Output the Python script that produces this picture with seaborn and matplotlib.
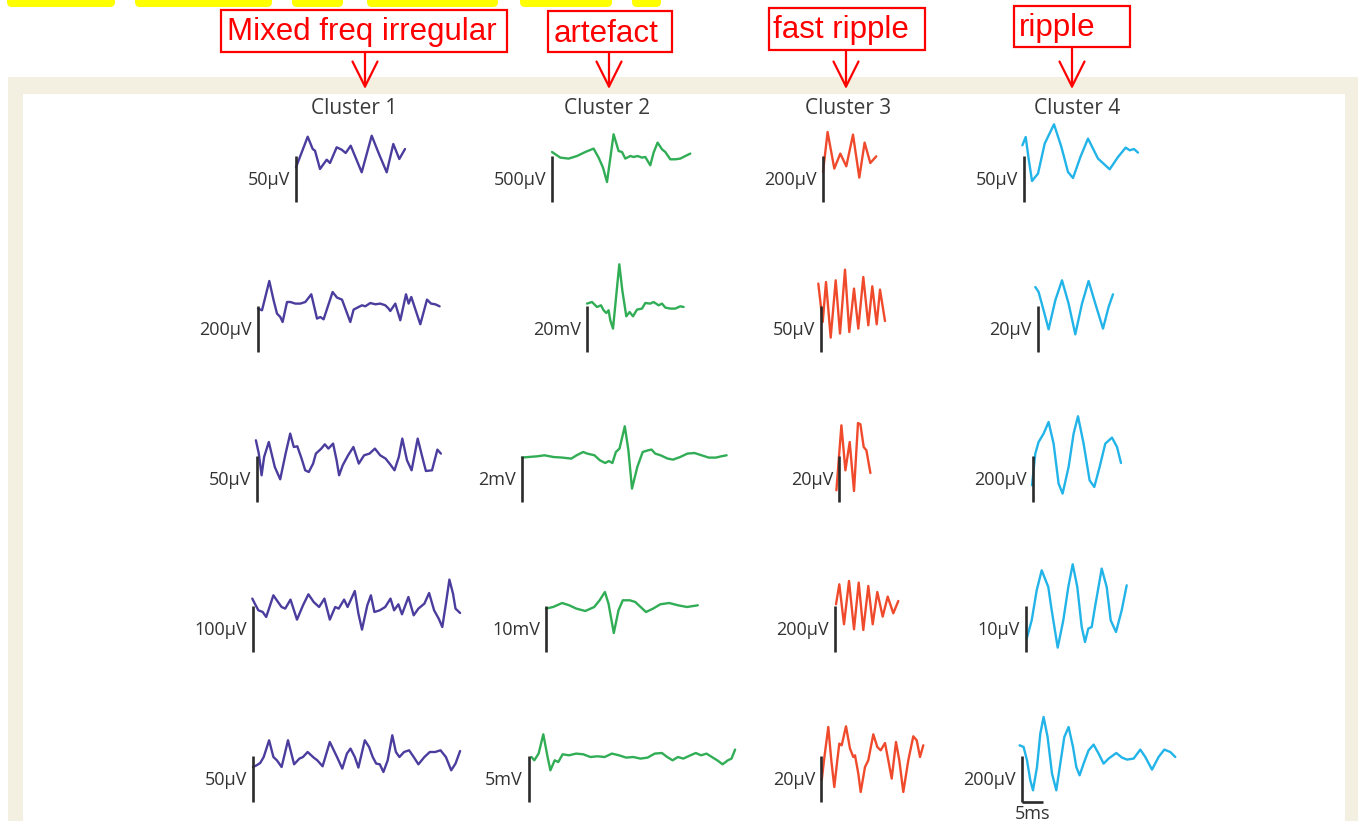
import numpy as np
import pandas as pd
import matplotlib.pyplot as plt
import seaborn as sns
from matplotlib.patches import Rectangle, FancyBboxPatch

sns.set_style('white')
plt.rcParams['font.family'] = ['Open Sans', 'DejaVu Sans']

# ---- data: example traces (t right of scale bar, v up from bar base) ----
c1_t = [
    [0, 11.7, 16.7, 19, 24, 30.7, 34, 40.7, 45.7, 49.7, 54.7, 65.7, 75.7, 82.3, 90.7, 97.3, 103.3, 109],
    [0, 4, 11.3, 15.6, 19, 22.3, 24.6, 29, 32.3, 37.3, 42.3, 47.3, 53.3, 59, 62.3, 65.6, 74.6, 79, 84, 92.3,
     95.6, 100.6, 104, 107.3, 112.3, 117.3, 122.3, 127.3, 130.6, 132.3, 137.3, 142.3, 148, 150.6, 153.3,
     162.3, 169, 173, 177.3, 181.6],
    [-1.1, 1.8, 4.6, 7.1, 11.8, 17.8, 23.2, 28.6, 33.2, 36.8, 40.3, 44.6, 48.2, 51.8, 56.1, 58.9, 64.3, 67.8,
     71.4, 76.1, 79.6, 82.1, 85.7, 91.1, 96.4, 101.8, 107.1, 112.5, 117.9, 123.2, 128.6, 133.9, 137.5, 141.8,
     145.3, 150, 154.6, 160.7, 165.3, 168.9, 175, 180.4, 183.9],
    [-0.7, 1.8, 5.4, 9.7, 13.2, 20.4, 25, 28.6, 32.2, 37.5, 44, 50, 55.4, 60.7, 66.1, 71.4, 76.8, 82.2, 85.7,
     91.1, 94.6, 101.8, 105.4, 109, 114.3, 117.9, 121.4, 126.8, 132.2, 137.5, 141.1, 145.4, 149, 155.4, 160.7,
     165.4, 171.4, 176.1, 181.1, 185.7, 189.3, 192.9, 196.4, 200, 202.5, 207.1],
    [0, 3.6, 7.2, 10.7, 16.1, 20.4, 23.9, 28.6, 35, 41.1, 46.4, 50, 54.6, 60.7, 64.3, 69.6, 76.8, 84, 89.3,
     93.9, 97.5, 101.8, 105.4, 111.8, 116.1, 119.7, 123.2, 126.8, 130.4, 134.7, 139.3, 142.9, 146.4, 151.1,
     156.1, 160.7, 165.4, 171.4, 176.8, 182.2, 187.5, 192.9, 198.2, 202.5, 207.1],
]
c1_v = [
    [34.7, 65.3, 53, 51.3, 33, 42.3, 39, 54.7, 52.3, 49, 56.3, 29.7, 66.3, 49.7, 29.7, 58, 43, 53],
    [43.4, 41.7, 71, 51.7, 38.4, 35, 30, 50, 50, 48.4, 48.4, 50, 57.7, 33.4, 35, 32.7, 60, 54.4, 52.4, 30,
     42.4, 45, 46.7, 45.7, 49, 47.7, 48.4, 46.7, 43.4, 41, 48.4, 31.7, 57.7, 48.4, 55, 27.7, 52.4, 48.4,
     47.7, 45.7],
    [61.7, 48.4, 26.7, 45, 60, 35, 22.7, 48.4, 68.4, 55, 55.7, 43.4, 31.7, 30, 38.4, 48.4, 53.4, 57.7, 53.4,
     58.4, 41.7, 26.7, 36.7, 46.7, 55, 38.4, 46.7, 48.4, 53.4, 46.7, 43.4, 36.7, 31.7, 45, 63.4, 41.7, 31.7,
     63.4, 45, 31, 31.7, 52.4, 48.4],
    [53.4, 48.4, 41.7, 40, 35, 56.7, 50, 45, 43.4, 52.4, 32.4, 46.7, 57.7, 50, 45, 53.4, 32.4, 45, 43.4,
     52.4, 45, 61, 38.4, 22.4, 46.7, 56.7, 40, 41.7, 45, 53.4, 41.7, 47.7, 37.7, 55, 36.7, 43.4, 48.4, 59,
     41.7, 33.4, 25, 48.4, 72.4, 58.4, 43.4, 39],
    [35, 36.7, 39, 45, 61.7, 45, 41.7, 35, 61.7, 37.7, 43.4, 45, 50, 44.4, 41.7, 35.7, 60, 45, 33.4, 48.4,
     53.4, 45, 34.4, 61.7, 55, 45, 38.4, 37.7, 30, 41.7, 66.7, 50, 45, 50, 51.7, 45, 37.7, 45, 50, 50, 51.7,
     45, 31.7, 38.4, 51],
]

c2_t = [
    [0, 8.3, 16.6, 25, 33.3, 41.6, 46.6, 51, 55, 61.6, 66.6, 70, 73.3, 78.3, 81.6, 85.6, 90, 93.3, 98.3,
     101.6, 105.6, 110, 113.3, 118.3, 123.3, 128.3, 133.3, 138.3],
    [0, 5, 10, 14, 16.6, 19.3, 21.6, 23.3, 26, 32.3, 35.3, 39.3, 42.6, 46, 50, 55, 58.3, 63.3, 66.6, 71.6,
     75, 78.3, 83.3, 88.3, 93.3, 96.6],
    [0, 6.4, 15.3, 22.5, 31.4, 40.4, 49.3, 54.6, 61.1, 65.3, 72.5, 77.9, 83.2, 86.8, 90.4, 93.9, 97.5, 102.8,
     106.4, 110, 115.3, 120.7, 126.1, 129.6, 133.2, 138.6, 145.7, 151.1, 158.2, 165.4, 172.5, 179.6, 186.8,
     193.9, 199.3, 204.6],
    [0, 7.1, 16.1, 23.2, 30.3, 39.3, 48.2, 53.6, 58.9, 62.5, 67.8, 72.5, 76.8, 83.9, 89.3, 94.6, 100, 107.1,
     114.3, 123.2, 132.1, 141, 151.8],
    [2.5, 5.3, 9.6, 14.3, 18.6, 21.4, 25.7, 29.3, 33.6, 40, 47.1, 54.3, 61.4, 68.6, 75.7, 82.9, 90, 97.1,
     104.3, 111.4, 118.6, 125.7, 132.9, 138.2, 143.6, 148.9, 154.3, 161.4, 166.8, 172.1, 177.5, 182.9, 188.2,
     193.6, 198.9, 202.5, 206.1],
]
c2_v = [
    [50, 44.4, 43.4, 46, 50, 53.4, 44.4, 34.4, 20, 67.7, 51, 50, 43.4, 46, 45, 46, 44.4, 45, 36.7, 49.4,
     59.4, 52.7, 50, 42.7, 42.7, 43.4, 46, 48.4],
    [48.4, 50, 45, 46.7, 41.7, 39, 41.7, 31.7, 23.4, 87.7, 61.7, 35.7, 40, 35.7, 42.4, 43.4, 49, 48.4, 50,
     46.7, 48.4, 44.4, 43.4, 43.4, 45.7, 45],
    [44.4, 45, 45.7, 46.7, 45, 44.4, 43.4, 46.7, 50, 48.4, 46.7, 41.7, 39, 41, 39, 50, 53.4, 75.7, 51.7,
     13.4, 35, 50, 51.7, 52.4, 48.4, 46.7, 43.4, 42.4, 45, 48.4, 49, 46.7, 44.4, 44.4, 45.7, 46.7],
    [43.4, 45, 49, 46.7, 43.4, 41, 45, 51.7, 60, 48.4, 19, 41.7, 51.7, 51.7, 50, 45, 40, 43.4, 47.7, 49,
     46.7, 45, 46.7],
    [45, 41.7, 48.4, 67.7, 45, 31.7, 41.7, 40, 47.7, 46.7, 48.4, 47.7, 45, 45.7, 45, 48.4, 46.7, 44.4, 45,
     43.4, 44.4, 48.4, 49, 45, 41.7, 45, 43.4, 46.7, 49, 46.7, 48.4, 45, 41.7, 37.7, 41.7, 43.4, 52.4],
]

c3_t = [
    [0, 4.6, 11.3, 17.3, 23.3, 30, 36.3, 41.6, 47.3, 53.3],
    [-2.7, 1.7, 5, 9.7, 14.7, 19, 24, 28.3, 33, 37.3, 42.3, 47.3, 51.3, 55.7, 59, 64],
    [-2.6, 2.4, 6.4, 10.7, 15, 19, 21.4, 24.7, 27.4, 31.4],
    [1, 4.3, 9, 14, 19, 23.7, 28.3, 33.3, 37.7, 42.3, 47.7, 52.7, 58.3, 63.3],
    [0.7, 3, 7.3, 10.3, 13.3, 16.3, 18.3, 20.7, 25, 29, 32.3, 34, 37.3, 39.7, 44, 47.3, 52.3, 56.3, 59.7,
     64, 67.3, 70.7, 75, 78.3, 82.3, 87.3, 92.3, 95.7, 99, 102.3],
]
c3_v = [
    [30, 70, 33.4, 48.4, 35.7, 67.4, 24.4, 59.4, 39, 45.7],
    [68.4, 30, 70, 14.4, 71.7, 18.4, 82.4, 20, 63.4, 23.4, 75, 26.7, 65.7, 27.7, 62.4, 31],
    [11.7, 76.7, 31.7, 60, 11, 79, 77.7, 55, 51.7, 29],
    [47.7, 67.7, 27.7, 71, 22.7, 69.4, 22, 66, 27.7, 60, 35.4, 55.4, 38.7, 51],
    [21.7, 41.7, 75, 41.7, 15, 41.7, 58.4, 56.7, 75.7, 53.4, 45, 46.7, 28.4, 10, 35, 41.7, 67.7, 55, 51.7,
     59, 41.7, 23.4, 60, 41.7, 10, 41.7, 65.7, 61.7, 45, 56.7],
]

c4_t = [
    [-1.6, 1.7, 4.4, 8, 14, 20.7, 30, 37.4, 44, 49, 56.4, 64, 74, 85.7, 94, 101.7, 105.7, 110, 114],
    [-2.7, 0.6, 5.6, 10.6, 17.3, 24, 30.6, 37.3, 44, 50.6, 57.3, 65, 70.6, 75],
    [-1, 2.3, 5.6, 10.6, 15.6, 20.6, 25.6, 29.6, 35.6, 40.6, 45, 50.6, 56.6, 61.3, 66.6, 72.3, 79, 84, 88],
    [0.7, 5.7, 10.7, 15.7, 22.3, 25.7, 31.7, 37.3, 42.3, 46.7, 51.3, 55.7, 59, 62.3, 65.7, 69, 75.7, 80.7,
     84.7, 90, 95.7, 100.7],
    [-2.4, 1.6, 5, 8.3, 11, 15, 18.3, 21.6, 25.6, 30, 34.3, 38.3, 42.3, 46.6, 51, 54.3, 57.6, 61.6, 66.6,
     71.6, 76.6, 81.6, 86.6, 94.3, 100, 105, 111.6, 118.3, 123.3, 130, 136.6, 142.3, 148.3, 153.3],
]
c4_v = [
    [56.7, 65, 45, 21, 28.4, 58.4, 77.7, 55, 30, 24, 45, 63.4, 43.4, 32.7, 45, 54.4, 51.7, 53, 49.4],
    [65, 60, 41.7, 22.7, 51.7, 71.7, 48.4, 17.7, 48.4, 71, 48.4, 23.4, 45, 57.7],
    [16.7, 48.4, 60, 68.4, 80, 58.4, 18.4, 8.4, 35, 68.4, 85.7, 58.4, 21.7, 15, 35, 58.4, 64.4, 55, 39],
    [13.4, 31.7, 61.7, 81.7, 65, 41.7, 4.4, 31.7, 65, 87.7, 65, 25, 10, 23.4, 25, 45, 83.4, 65, 31.7, 20,
     41.7, 66.7],
    [56.7, 55, 41.7, 21.7, 11.7, 35, 68.4, 85, 65, 28.4, 11.7, 38.4, 65, 75, 55, 35, 26.7, 38.4, 51.7, 57.4,
     48.4, 38.4, 43.4, 49, 44.4, 42.4, 43.4, 52.4, 45, 32.4, 45, 52.4, 50, 45],
]

c1_scale = ['50µV', '200µV', '50µV', '100µV', '50µV']
c2_scale = ['500µV', '20mV', '2mV', '10mV', '5mV']
c3_scale = ['200µV', '50µV', '20µV', '200µV', '20µV']
c4_scale = ['50µV', '20µV', '200µV', '10µV', '200µV']

cluster_names = ['Cluster 1', 'Cluster 2', 'Cluster 3', 'Cluster 4']
cluster_tags = ['Mixed freq irregular', 'artefact', 'fast ripple', 'ripple']
time_bar_label = '5ms'

# ---- layout (figure pixels) ----
W, H = 1358, 821
colors = ['#4a3d9e', '#30ad55', '#f04a2c', '#22b4e8']
bar_x = [[296, 552, 823, 1024], [258, 587, 821, 1038], [257, 522, 839, 1033],
         [253, 546, 835, 1026], [253, 529, 821, 1022]]
row_base = [202, 352, 502, 652, 802]
bar_h = 46
title_x = [354, 607, 848, 1077]
tag_pos = [(227, 40, 221, 10, 507, 52, 365), (554, 42, 548, 11, 672, 52, 609),
           (773, 38, 769, 8, 925, 50, 846), (1019, 36, 1014, 6, 1130, 47, 1072)]
highlights = [(7, 115), (135, 272), (292, 343), (367, 498), (520, 612), (632, 661)]

traces_t = [c1_t, c2_t, c3_t, c4_t]
traces_v = [c1_v, c2_v, c3_v, c4_v]
scales = [c1_scale, c2_scale, c3_scale, c4_scale]

fig = plt.figure(figsize=(W / 100, H / 100), dpi=100)

# background / decorations in pixel coords
bg = fig.add_axes([0, 0, 1, 1])
bg.set_xlim(0, W)
bg.set_ylim(H, 0)
bg.axis('off')
bg.add_patch(Rectangle((8, 77), W, H, color='#f3f0e2', lw=0))
bg.add_patch(Rectangle((23, 94), 1345 - 23, H, color='white', lw=0))
for x0, x1 in highlights:
    bg.add_patch(FancyBboxPatch((x0, -10), x1 - x0, 17, boxstyle='round,pad=0,rounding_size=5',
                                fc='#ffff00', ec='none'))

for tag, (tx, ty, x0, y0, x1, y1, axx) in zip(cluster_tags, tag_pos):
    bg.add_patch(Rectangle((x0, y0), x1 - x0, y1 - y0, fill=False, ec='#ff0000', lw=1.6))
    bg.text(tx, ty, tag, color='#ff0000', fontsize=22.5, ha='left', va='baseline',
            family=['Liberation Sans', 'DejaVu Sans'])
    bg.annotate('', xy=(axx, 89), xytext=(axx, y1),
                arrowprops=dict(arrowstyle='->,head_length=1.8,head_width=0.9', color='#ff0000',
                                lw=1.6, shrinkA=0, shrinkB=0))

for name, cx in zip(cluster_names, title_x):
    bg.text(cx, 114, name, ha='center', va='baseline', fontsize=15, color='#3a3a3a')

# one small axes per example trace, 1 data unit = 1 pixel
L, R, D, U = 95, 215, 25, 100
for r in range(5):
    for c in range(4):
        bx, by = bar_x[r][c], row_base[r]
        ax = fig.add_axes([(bx - L) / W, 1 - (by + D) / H, (L + R) / W, (U + D) / H])
        ax.set_xlim(-L, R)
        ax.set_ylim(-D, U)
        ax.axis('off')
        ax.patch.set_visible(False)
        df = pd.DataFrame({'t': traces_t[c][r], 'v': traces_v[c][r]})
        sns.lineplot(data=df, x='t', y='v', ax=ax, color=colors[c], lw=1.7,
                     sort=False, estimator=None, solid_joinstyle='round', solid_capstyle='round')
        ax.plot([0, 0], [0, bar_h], color='#2b2b2b', lw=1.9, solid_capstyle='butt')
        ax.text(-6, 22, scales[c][r], ha='right', va='center', fontsize=13, color='#333333')
        if r == 4 and c == 3:
            ax.plot([0, 21], [0, 0], color='#2b2b2b', lw=1.9, solid_capstyle='butt')
            ax.text(10.5, -3, time_bar_label, ha='center', va='top', fontsize=13, color='#333333')
        ax.set_xlabel('')
        ax.set_ylabel('')

fig.savefig('out.png', dpi=100)
